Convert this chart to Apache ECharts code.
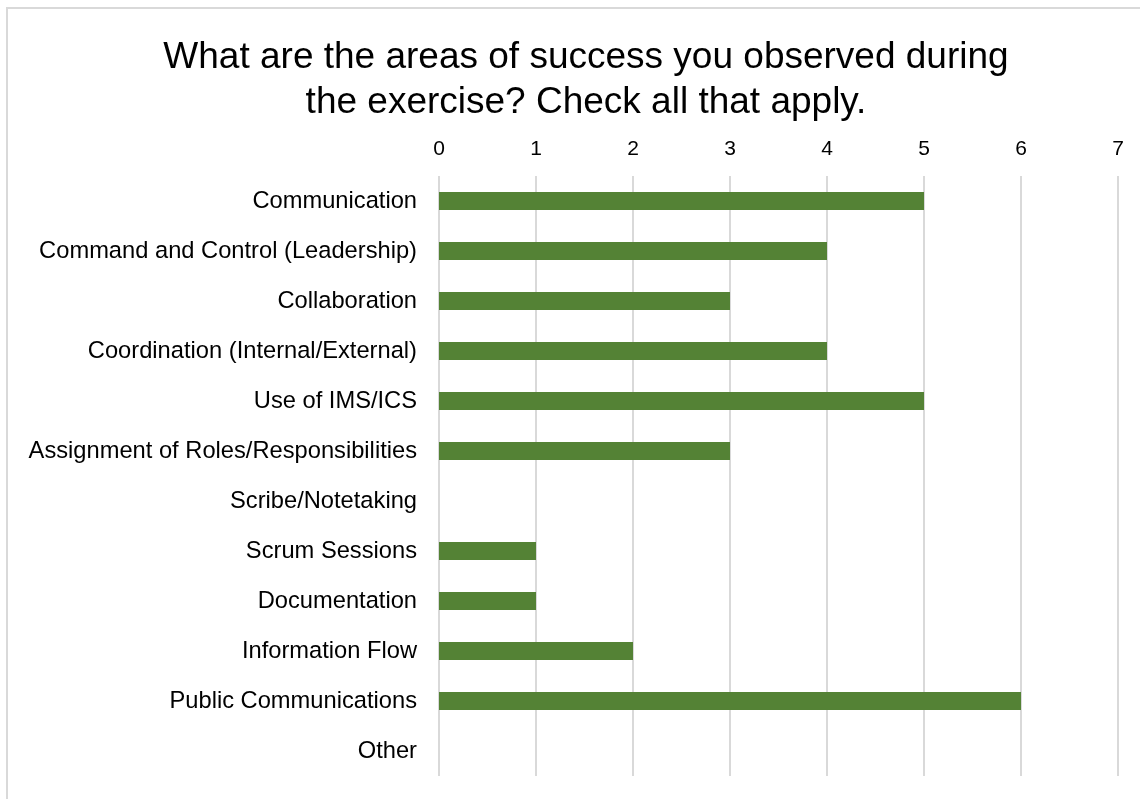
<!DOCTYPE html>
<html>
<head>
<meta charset="utf-8">
<script src="https://cdn.jsdelivr.net/npm/echarts@6/dist/echarts.min.js"></script>
<style>
  html, body { margin: 0; padding: 0; background: #fff; overflow: hidden; }
  #frame { position: absolute; left: 6px; top: 7px; width: 1200px; height: 900px; border: 2px solid #d9d9d9; }
  #main { position: absolute; left: 0; top: 0; width: 1140px; height: 799px; }
</style>
</head>
<body>
<div id="frame"></div>
<div id="main"></div>
<script>
// categories, top to bottom
var categories = [
  'Communication',
  'Command and Control (Leadership)',
  'Collaboration',
  'Coordination (Internal/External)',
  'Use of IMS/ICS',
  'Assignment of Roles/Responsibilities',
  'Scribe/Notetaking',
  'Scrum Sessions',
  'Documentation',
  'Information Flow',
  'Public Communications',
  'Other'
]
var counts = [5, 4, 3, 4, 5, 3, 0, 1, 1, 2, 6, 0]
var titleText = 'What are the areas of success you observed during\nthe exercise? Check all that apply.'

var chart = echarts.init(document.getElementById('main'))
var option = {
  animation: false,
  title: {
    text: titleText,
    left: 581,
    top: 30,
    textAlign: 'center',
    textStyle: {
      fontFamily: 'Liberation Sans, Arial, sans-serif',
      fontSize: 37,
      fontWeight: 'normal',
      color: '#000',
      lineHeight: 45
    }
  },
  grid: {
    left: 439,
    right: 22,
    top: 176,
    bottom: 23,
    containLabel: false
  },
  xAxis: {
    type: 'value',
    position: 'top',
    min: 0,
    max: 7,
    interval: 1,
    axisLine: { show: false },
    axisTick: { show: false },
    axisLabel: {
      margin: 16,
      fontFamily: 'Liberation Sans, Arial, sans-serif',
      fontSize: 21,
      color: '#000'
    },
    splitLine: { lineStyle: { color: '#d9d9d9', width: 2 } }
  },
  yAxis: {
    type: 'category',
    inverse: true,
    data: categories,
    axisLine: { show: false },
    axisTick: { show: false },
    axisLabel: {
      margin: 22,
      fontFamily: 'Liberation Sans, Arial, sans-serif',
      fontSize: 23.7,
      color: '#000'
    }
  },
  series: [{
    type: 'bar',
    data: counts,
    barWidth: 18,
    itemStyle: { color: '#548235' }
  }]
}
chart.setOption(option)
</script>
</body>
</html>
